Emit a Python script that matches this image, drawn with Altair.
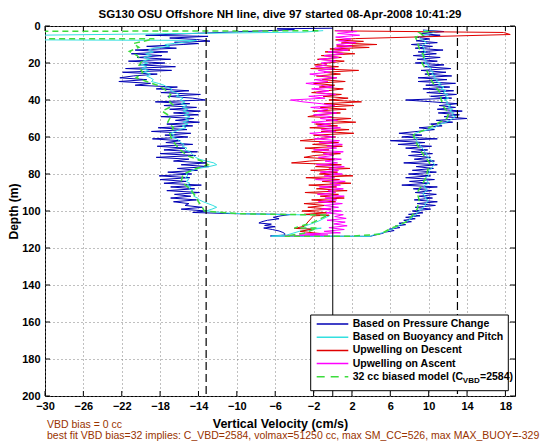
import altair as alt
import pandas as pd

TITLE = "SG130 OSU Offshore NH line, dive 97 started 08-Apr-2008 10:41:29"
XTITLE = "Vertical Velocity (cm/s)"
YTITLE = "Depth (m)"
XTICKS = [-30, -26, -22, -18, -14, -10, -6, -2, 2, 6, 10, 14, 18]
YTICKS = [0, 20, 40, 60, 80, 100, 120, 140, 160, 180, 200]
DASHED_V = [-13.2, 13.0]
SOLID_V = [0]
NOTE1 = "VBD bias = 0 cc"
NOTE2 = "best fit VBD bias=32 implies: C_VBD=2584, volmax=51250 cc, max SM_CC=526, max MAX_BUOY=-329"
LEG_LABELS = ["Based on Pressure Change", "Based on Buoyancy and Pitch",
              "Upwelling on Descent", "Upwelling on Ascent"]
LEG_LAST = ["32 cc biased model (C", "VBD", "=2584)"]

# (depth m, vertical velocity cm/s)
blue = [
    (1.2, 0.0), (1.5, -5.8), (2.0, -4.0), (5.0, -19.5), (5.6, -13.0), (6.5, -17.0),
    (7.3, -14.2), (8.2, -12.8), (8.8, -16.5), (9.5, -14.0),
    (10, -15.6), (11, -19.4), (12, -16.3), (13, -20.6), (14, -17.2), (15, -21.0),
    (16, -17.8), (17, -20.4), (18, -16.9), (19, -21.3), (20, -17.5), (21, -20.2),
    (22, -16.4), (23, -21.6), (24, -16.8), (25, -21.9), (26, -18.3), (27, -20.8),
    (28, -22.2), (29, -19.4), (30, -22.3), (31, -19.0), (32, -20.6), (33, -16.2),
    (34, -18.4), (35, -15.0), (36, -17.9), (37, -13.8), (38, -17.2), (39, -14.6),
    (40, -13.3), (41, -18.5), (42, -14.9), (43, -17.6), (44, -14.2), (45, -17.0),
    (46, -13.8), (47, -16.6), (48, -14.0), (49, -17.9), (50, -14.5), (51, -16.4),
    (52, -13.9), (53, -17.3), (54, -14.6), (55, -18.2), (56, -15.2), (57, -18.9),
    (58, -14.8), (59, -17.5), (60, -15.1), (61, -18.8), (62, -15.9), (63, -17.4),
    (64, -14.6), (65, -18.3), (66, -15.4), (67, -17.6), (68, -14.1), (69, -18.0),
    (70, -14.3), (71, -18.4), (72, -15.0), (73, -16.6), (74, -13.2), (75, -15.8),
    (76, -12.9), (77, -16.2), (78, -14.1), (79, -17.2), (80, -14.7), (81, -18.1),
    (82, -14.9), (83, -18.0), (84, -15.3), (85, -17.6), (86, -13.7), (87, -16.9),
    (88, -14.4), (89, -17.3), (90, -13.9), (91, -16.5), (92, -14.8), (93, -16.9),
    (94, -14.2), (95, -16.6), (96, -15.0), (97, -15.4), (98, -13.6), (99, -15.8),
    (100, -13.2),
    (100.8, -14.6), (101.4, -10.7), (101.9, -4.4), (102.6, -5.4), (103.4, -6.2),
    (104.2, -5.6), (105.0, -6.8), (105.8, -7.4), (106.5, -7.7), (107.1, -6.4),
    (107.8, -7.1), (108.5, -6.0), (109.2, -7.2), (110.0, -6.3), (110.8, -5.6),
    (111.6, -5.2), (112.2, -5.0), (113.0, -5.0), (113.5, -6.5),
    (113.7, 3.9), (113.0, 4.4), (112.2, 5.1), (111.4, 5.5), (110.6, 6.4), (109.8, 5.9),
    (109.0, 7.0), (108.2, 6.5), (107.4, 7.6), (106.6, 6.9), (105.8, 8.2), (105.0, 7.4),
    (104.2, 8.6), (103.4, 7.6), (102.6, 9.1), (101.8, 7.9), (101.0, 9.4),
    (100, 8.3), (99, 10.2), (98, 8.6), (97, 10.7), (96, 8.8), (95, 10.9), (94, 8.5),
    (93, 10.4), (92, 9.0), (91, 10.8), (90, 8.6), (89, 10.3), (88, 8.4), (87, 10.9),
    (86, 7.2), (85, 10.1), (84, 8.0), (83, 10.6), (82, 7.6), (81, 10.2), (80, 7.9),
    (79, 10.8), (78, 8.3), (77, 10.5), (76, 8.7), (75, 10.9), (74, 7.4), (73, 10.6),
    (72, 8.5), (71, 10.2), (70, 7.9), (69, 10.4), (68, 8.2), (67, 9.9), (66, 7.6),
    (65, 10.3), (64, 6.8), (63, 9.6), (62, 6.0), (61, 10.9), (60, 7.2), (59, 9.3),
    (58, 6.9), (57, 8.8), (56, 10.6), (55, 9.0), (54, 11.4), (53, 10.2), (52, 12.5),
    (51, 10.8), (50, 14.0), (49, 11.6), (48, 13.2), (47, 11.0), (46, 13.5), (45, 10.9),
    (44, 12.8), (43, 11.1), (42, 13.0), (41, 10.4), (40, 7.6), (39, 12.4), (38, 10.2),
    (37, 12.9), (36, 9.8), (35, 12.6), (34, 9.4), (33, 12.2), (32, 9.7), (31, 12.8),
    (30, 8.9), (29, 11.9), (28, 8.9), (27, 12.4), (26, 9.6), (25, 11.8), (24, 9.2),
    (23, 12.3), (22, 9.5), (21, 11.6), (20, 8.6), (19, 10.9), (18, 8.8), (17, 11.2),
    (16, 8.4), (15, 10.8), (14, 8.9), (13, 11.5), (12, 8.6), (11, 10.4), (10, 8.2),
    (9, 10.9), (8, 8.7), (7, 10.1), (6, 8.6), (5, 11.2), (4, 9.1), (3, 11.6), (2.2, 9.4),
]

cyan = [
    (2.5, -1.0), (3.3, -3.0), (5.3, -36.0), (7.4, -36.0), (7.8, -14.2), (8.6, -15.2),
    (9.4, -16.5),
    (10, -17.5), (11, -17.0), (12, -18.6), (13, -19.2), (14, -18.7), (15, -19.5),
    (16, -18.9), (17, -19.7), (18, -19.1), (19, -19.8), (20, -19.3), (21, -20.0),
    (22, -19.4), (23, -19.9), (24, -19.2), (25, -19.7), (26, -19.0), (27, -19.4),
    (28, -19.0), (29, -18.7), (30, -18.9), (31, -18.2), (32, -17.6), (33, -17.3),
    (34, -16.8), (35, -16.9), (36, -16.4), (37, -16.0), (38, -16.3), (39, -15.6),
    (40, -15.9), (41, -15.4), (42, -15.8), (43, -15.2), (44, -15.7), (45, -15.1),
    (46, -15.6), (47, -15.0), (48, -15.5), (49, -14.9), (50, -15.4), (51, -15.0),
    (52, -15.6), (53, -15.1), (54, -15.7), (55, -15.3), (56, -16.0), (57, -16.4),
    (58, -16.9), (59, -16.5), (60, -16.8), (61, -16.3), (62, -16.0), (63, -15.9),
    (64, -15.5), (65, -15.7), (66, -15.2), (67, -15.4), (68, -14.9), (69, -14.7),
    (70, -14.5), (71, -14.3), (72, -13.9), (73, -13.2), (74, -12.4), (75, -12.1),
    (76, -12.9), (77, -14.0), (78, -14.6), (79, -15.0), (80, -15.3), (81, -15.1),
    (82, -15.4), (83, -15.0), (84, -15.3), (85, -14.9), (86, -15.2), (87, -14.8),
    (88, -15.0), (89, -14.6), (90, -14.8), (91, -14.4), (92, -14.5), (93, -14.1),
    (94, -13.9), (95, -13.5), (96, -13.0), (97, -12.5), (98, -12.1), (99, -12.6),
    (100, -13.2),
    (100.6, -12.0), (101.1, -11.0), (101.7, -7.9), (102.0, -4.8), (102.1, -1.6),
    (102.4, -0.3), (105.5, -1.5), (109.5, -3.6), (109.3, -1.2), (111.0, -3.5),
    (113.0, -4.8), (113.6, -6.4),
    (113.7, 3.9), (113, 4.2), (112, 5.0), (111, 5.6), (110, 6.1), (109, 6.5), (108, 6.8),
    (107, 7.2), (106, 7.5), (105, 7.9), (104, 8.2), (103, 8.4), (102, 8.7), (101, 8.8),
    (100, 9.0), (99, 9.3), (98, 9.4), (97, 9.7), (96, 9.6), (95, 9.9), (94, 9.9),
    (93, 9.6), (92, 9.7), (91, 9.4), (90, 9.5), (89, 9.8), (88, 9.8), (87, 9.5),
    (86, 9.6), (85, 10.0), (84, 9.9), (83, 9.6), (82, 9.7), (81, 10.0), (80, 9.9),
    (79, 10.1), (78, 10.0), (77, 10.3), (76, 10.4), (75, 10.6), (74, 10.5), (73, 10.3),
    (72, 10.2), (71, 9.9), (70, 9.8), (69, 9.8), (68, 9.6), (67, 9.5), (66, 9.3),
    (65, 9.2), (64, 9.0), (63, 8.9), (62, 8.7), (61, 8.8), (60, 8.5), (59, 8.4),
    (58, 8.6), (57, 9.2), (56, 10.0), (55, 10.6), (54, 10.9), (53, 11.3), (52, 11.8),
    (51, 12.2), (50, 12.5), (49, 12.8), (48, 12.4), (47, 12.6), (46, 12.2), (45, 12.5),
    (44, 12.0), (43, 12.3), (42, 11.8), (41, 12.0), (40, 11.6), (39, 12.1), (38, 11.7),
    (37, 12.0), (36, 11.5), (35, 11.8), (34, 11.3), (33, 11.6), (32, 11.0), (31, 11.3),
    (30, 10.8), (29, 10.9), (28, 10.5), (27, 10.7), (26, 10.3), (25, 10.5), (24, 10.1),
    (23, 10.3), (22, 9.9), (21, 10.0), (20, 9.6), (19, 9.8), (18, 9.5), (17, 9.6),
    (16, 9.3), (15, 9.4), (14, 9.7), (13, 9.4), (12, 9.6), (11, 9.3), (10, 9.5),
    (9, 9.8), (8, 9.5), (7, 9.2), (6, 9.0), (5, 9.5), (4, 10.2), (3, 10.8), (2.5, 9.5),
]

red = [
    (2.6, 0.2), (3.5, 17.8), (4.6, 18.5), (6.8, 2.4), (7.5, 0.3), (8.3, 3.2), (9.2, 0.9),
    (10.0, 4.6), (10.8, 0.4), (11.6, 3.8), (12.4, -0.3),
    (13, 1.8), (14, -0.8), (15, 2.3), (16, -1.2), (17, 0.9), (18, -1.6), (19, 1.2),
    (20, -0.5), (21, -1.9), (22, 0.6), (23, -2.3), (24, 2.7), (25, -0.9), (26, 0.8),
    (27, -1.7), (28, 0.4), (29, -1.1), (30, 1.3), (31, -2.0), (32, 0.2), (33, -1.4),
    (34, 1.1), (35, -0.6), (36, -2.2), (37, 0.9), (38, -1.0), (39, 1.6), (40, -0.4),
    (41, 3.0), (42, -0.9), (43, 2.2), (44, -1.3), (45, 1.4), (46, -2.1), (47, 0.8),
    (48, -1.5), (49, -2.6), (50, 1.9), (51, -0.7), (52, 2.4), (53, -1.8), (54, 0.5),
    (55, -2.4), (56, 1.7), (57, -1.2), (58, 2.2), (59, -2.0), (60, 0.3), (61, -1.6),
    (62, -3.4), (63, 0.6), (64, -2.1), (65, 1.0), (66, -2.9), (67, -0.4), (68, -2.2),
    (69, 0.8), (70, -1.9), (71, -3.0), (72, 0.2), (73, -2.4), (74, -4.3), (75, 0.9),
    (76, -1.8), (77, 1.8), (78, -2.3), (79, 0.5), (80, -1.4), (81, 2.1), (82, -2.8),
    (83, 0.7), (84, -1.1), (85, 1.9), (86, -2.5), (87, 0.4), (88, -1.7), (89, 1.5),
    (90, -2.9), (91, 0.6), (92, -1.3), (93, 1.2), (94, -2.2), (95, 0.3), (96, -3.0),
    (97, -0.8), (98, -2.6), (99, -0.2), (100, -3.2), (101, -0.6),
    (101.8, -3.0), (102.3, -0.4), (102.6, -2.0), (108.3, -3.0), (109.4, -4.0),
    (109.8, -2.2), (111.0, -3.4), (112.2, -1.3), (112.8, -2.0),
]

magenta = [
    (113.4, -5.0), (113.0, -0.5), (112.4, -3.5), (111.8, 0.8),
    (111, -0.9), (110, 1.2), (109, -0.4), (108, 1.5), (107, 0.1), (106, 1.3), (105, -0.6),
    (104, 1.4), (103, 0.2), (102, 1.1), (101, -0.7), (100, 0.9), (99, -1.2), (98, 0.6),
    (97, -0.9), (96, 1.0), (95, -1.5), (94, 0.4), (93, -0.8), (92, 1.2), (91, -1.6),
    (90, 0.3), (89, -0.5), (88, 1.1), (87, -1.4), (86, 0.8), (85, -0.3), (84, 1.3),
    (83, -1.8), (82, 0.2), (81, -0.9), (80, 1.0), (79, -1.3), (78, 0.6), (77, -0.4),
    (76, 1.2), (75, -1.7), (74, 0.5), (73, -0.8), (72, 0.9), (71, -1.5), (70, 0.1),
    (69, -1.0), (68, 1.1), (67, -2.0), (66, 0.4), (65, -0.6), (64, 1.0), (63, -1.4),
    (62, 0.7), (61, -1.9), (60, 0.2), (59, -1.1), (58, -2.4), (57, 0.3), (56, -1.2),
    (55, 0.8), (54, -1.6), (53, -0.2), (52, -2.2), (51, 0.5), (50, -1.3), (49, -0.1),
    (48, -2.0), (47, 0.4), (46, -1.6), (45, -0.5), (44, -2.3), (43, 0.2), (42, -1.2),
    (41, -3.1), (40, -4.4), (39, -0.8), (38, -2.5), (37, 0.3), (36, -1.7), (35, -0.4),
    (34, -2.2), (33, 0.1), (32, -1.3), (31, -2.8), (30, -0.5), (29, -1.9), (28, 0.4),
    (27, -1.1), (26, -2.4), (25, -0.3), (24, -1.5), (23, 0.2), (22, -1.8), (21, -0.6),
    (20, -1.2), (19, 0.3), (18, -1.4), (17, 0.6), (16, -0.9), (15, 1.1), (14, -0.5),
    (13, 1.6), (12, 0.2), (11, 2.0), (10, 0.4), (9, 2.4), (8, 0.6), (7, 1.9), (6, 0.3),
    (5, 2.8), (4, 0.5), (3, 2.5), (2.5, 0.3),
]

green = [
    (2.6, -1.5), (2.9, -36.0), (6.9, -36.0), (6.9, -18.6), (9.5, -20.8), (11.5, -20.2),
    (13.7, -21.2), (16, -20.4), (19, -19.9), (22, -20.3), (25, -19.8), (28, -20.5),
    (30, -19.4), (32, -18.3), (34, -17.6), (37, -16.9), (40, -17.2), (43, -16.6),
    (46, -17.8), (49, -16.9), (52, -17.2), (55, -16.6), (58, -17.0), (61, -16.8),
    (64, -16.4), (67, -15.9), (70, -15.2), (73, -13.7), (75, -13.0), (77, -14.2),
    (80, -15.6), (84, -15.8), (88, -14.9), (92, -14.3), (95, -14.0), (98, -13.6),
    (100, -13.4), (101.5, -9.7), (102.0, -3.0), (102.2, -0.5), (106, -2.0), (109.2, -4.0),
    (109.2, -1.6), (112, -3.0), (113.6, -5.0), (113.6, 2.0), (112.5, 5.0), (109.5, 6.0),
    (108.5, 6.5), (106, 7.6), (103, 8.2), (99, 8.8), (94, 9.0), (90, 8.8), (86, 9.3),
    (82, 9.7), (78, 9.9), (74, 10.1), (70, 9.5), (66, 9.0), (62, 8.6), (59, 8.4),
    (56, 9.6), (53, 10.8), (50, 11.9), (47, 12.1), (44, 11.6), (40, 11.3), (36, 11.2),
    (32, 10.6), (28, 10.1), (24, 9.8), (20, 9.3), (16, 9.5), (12, 9.0), (8, 8.8),
    (6, 8.6), (5, 9.4), (3.5, 9.0), (2.5, 10.5),
]

C_BLUE = "#0000b4"
C_CYAN = "#33e0e0"
C_RED = "#e00000"
C_MAG = "#ff00ff"
C_GREEN = "#3cdc3c"
C_NOTE = "#993300"
FONT = "Liberation Sans"
W, H = 470, 370


def frame(pairs):
    return pd.DataFrame({"d": [p[0] for p in pairs],
                         "v": [p[1] for p in pairs],
                         "i": list(range(len(pairs)))})


xs = alt.Scale(domain=[-30, 19], nice=False, zero=False)
ys = alt.Scale(domain=[0, 200], nice=False, zero=False, reverse=True)
common_axis = dict(grid=True, gridColor="#808080", gridDash=[1, 3], gridWidth=1,
                   ticks=False, domain=False, labelFont=FONT, labelFontSize=11,
                   labelFontWeight="bold", labelColor="black", labelFlush=False,
                   labelOverlap=False, titleFont=FONT,
                   titleFontWeight="bold", titleColor="black")
xaxis = alt.Axis(values=XTICKS, title=XTITLE, labelPadding=4, titlePadding=6,
                 titleFontSize=12.5, **common_axis)
yaxis = alt.Axis(values=YTICKS, title=YTITLE, labelPadding=5, titlePadding=1,
                 titleFontSize=12, **common_axis)
X = alt.X("v:Q", scale=xs, axis=xaxis)
Y = alt.Y("d:Q", scale=ys, axis=yaxis)


def line(pairs, color, width=1.0, dash=None):
    kw = dict(color=color, strokeWidth=width, clip=True)
    if dash:
        kw["strokeDash"] = dash
    return alt.Chart(frame(pairs)).mark_line(**kw).encode(x=X, y=Y, order="i:Q")


layers = [
    line(blue, C_BLUE),
    line(cyan, C_CYAN),
    line(red, C_RED),
    line(magenta, C_MAG),
    line(green, C_GREEN, 1.5, [6, 4]),
    alt.Chart(pd.DataFrame({"v": SOLID_V})).mark_rule(color="black", strokeWidth=1).encode(x=X),
    alt.Chart(pd.DataFrame({"v": DASHED_V})).mark_rule(color="black", strokeWidth=1.2,
                                                      strokeDash=[8, 4]).encode(x=X),
]

xt = pd.DataFrame({"v": XTICKS})
yt = pd.DataFrame({"d": YTICKS})
layers += [
    alt.Chart(xt).mark_rule(color="black").encode(x=X, y=alt.value(H), y2=alt.value(H - 5)),
    alt.Chart(xt).mark_rule(color="black").encode(x=X, y=alt.value(0), y2=alt.value(5)),
    alt.Chart(yt).mark_rule(color="black").encode(y=Y, x=alt.value(0), x2=alt.value(5)),
    alt.Chart(yt).mark_rule(color="black").encode(y=Y, x=alt.value(W), x2=alt.value(W - 5)),
]

one = pd.DataFrame({"k": [0]})
# legend box
layers.append(alt.Chart(one).mark_rect(fill="white", stroke="black", strokeWidth=1).encode(
    x=alt.value(265.7), x2=alt.value(463.3), y=alt.value(289), y2=alt.value(364.7)))
leg_colors = [C_BLUE, C_CYAN, C_RED, C_MAG]
row_y = [298, 311.2, 324.4, 337.6, 350.8]
for lab, col, yy in zip(LEG_LABELS, leg_colors, row_y[:4]):
    layers.append(alt.Chart(one).mark_rule(color=col, strokeWidth=1.5).encode(
        x=alt.value(271.7), x2=alt.value(303.3), y=alt.value(yy)))
    layers.append(alt.Chart(pd.DataFrame({"t": [lab]})).mark_text(
        align="left", baseline="middle", font=FONT, fontSize=10.5, fontWeight="bold",
        color="black").encode(x=alt.value(307.7), y=alt.value(yy), text="t:N"))
yy = row_y[4]
layers.append(alt.Chart(one).mark_rule(color=C_GREEN, strokeWidth=1.5, strokeDash=[8, 6]).encode(
    x=alt.value(271.7), x2=alt.value(303.3), y=alt.value(yy)))
for txt, xx, dy, fs in [(LEG_LAST[0], 307.7, 0, 10.5), (LEG_LAST[1], 417.8, 4, 8),
                        (LEG_LAST[2], 435.0, 0, 10.5)]:
    layers.append(alt.Chart(pd.DataFrame({"t": [txt]})).mark_text(
        align="left", baseline="middle", font=FONT, fontSize=fs, fontWeight="bold",
        color="black").encode(x=alt.value(xx), y=alt.value(yy + dy), text="t:N"))

# notes below the axis
for txt, yy in [(NOTE1, 398.8), (NOTE2, 410.4)]:
    layers.append(alt.Chart(pd.DataFrame({"t": [txt]})).mark_text(
        align="left", baseline="middle", font=FONT, fontSize=10.5, color=C_NOTE).encode(
        x=alt.value(2), y=alt.value(yy), text="t:N"))

chart = alt.layer(*layers).properties(
    width=W, height=H,
    title=alt.TitleParams(TITLE, font=FONT, fontSize=11.5, fontWeight="bold", color="black",
                          anchor="middle", offset=0),
    autosize=alt.AutoSizeParams(type="none"),
    padding={"left": 37, "top": 18, "right": 37, "bottom": 50},
    background="white",
).configure_view(stroke="black", strokeWidth=1)

chart.save("out.html", embed_options={"renderer": "svg", "actions": False})
